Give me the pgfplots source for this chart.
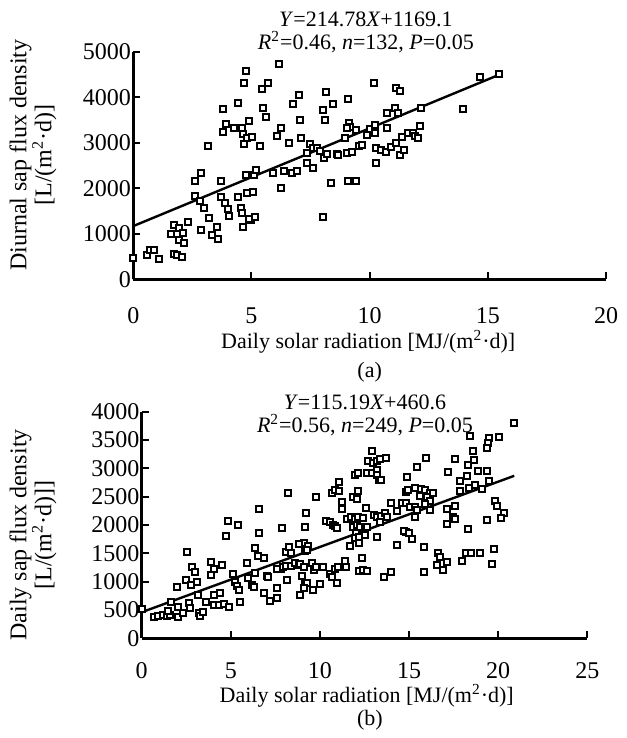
\documentclass[border=0pt]{standalone}
\usepackage{fontspec}
\setmainfont{Liberation Serif}
\usepackage{pgfplots}
\usepackage{pgfplotstable}
\pgfplotsset{compat=1.18}

\pgfplotstableread{
x y
0 468
0.56 534
0.7 644
0.87 644
1.1 440
1.58 996
1.72 1193
1.94 1120
2.1 1025
1.92 864
2.14 805
1.72 556
1.86 534
2.04 483
2.32 1259
2.6 2167
2.85 2328
2.6 1837
2.82 1720
3.01 1574
3.18 2928
2.85 1083
3.2 1340
3.35 974
3.55 1157
3.59 878
3.69 2160
3.8 3748
3.8 3243
3.94 3411
3.72 1815
3.86 1684
3.99 1552
4.06 1391
4.28 3331
4.44 3865
4.62 3331
4.65 3185
4.68 2972
4.76 4583
4.69 4305
4.82 3097
4.9 3485
5.01 3133
4.76 2300
5.1 2290
5.18 2400
4.42 1815
4.56 1559
4.62 1464
4.65 1157
4.82 1889
5.07 1925
5.0 1303
4.9 1325
5.13 1376
5.37 2928
5.46 4173
5.72 4305
5.49 3755
5.63 3558
5.92 2328
6.08 3155
6.25 3316
6.17 4722
6.25 2013
6.39 2379
6.59 2987
6.7 2328
6.94 2379
6.76 3851
7.0 4041
7.04 3499
7.1 3097
7.35 2782
7.46 2972
7.37 2548
7.6 2438
7.6 2877
7.77 2877
7.92 2818
8.03 3719
8.17 4122
8.13 3499
8.45 3851
8.07 2657
8.21 2745
8.03 1376
8.38 2108
8.63 2752
8.97 3097
9.08 3960
9.08 2152
9.44 2160
9.13 3441
9.15 3338
9.06 2767
9.27 2789
9.44 3280
9.55 2928
9.04 3318
8.66 2732
9.69 2945
9.89 3171
10.0 3300
10.17 4305
10.24 3387
10.24 3204
10.28 2879
10.28 2549
10.5 2830
10.73 3661
10.73 3332
10.7 2805
10.92 2900
11.06 3758
11.2 3661
11.1 4198
11.3 4145
11.13 2989
11.3 2732
11.38 3134
11.45 2830
11.62 3209
11.83 3222
11.9 3150
12.04 3099
12.11 3369
12.18 3755
13.94 3733
14.68 4436
15.46 4509
}\dataA

\pgfplotstableread{
x y
0 512
0.71 382
0.94 394
1.22 412
1.40 394
1.59 412
1.5 482
1.65 647
2.02 559
2.06 382
1.96 912
2.34 453
2.53 1529
2.47 1029
2.66 629
2.71 529
2.75 941
2.84 1253
2.99 1176
3.12 1000
3.18 765
3.22 453
3.27 394
3.46 471
3.59 647
3.89 1353
4.08 1218
3.89 1118
4.04 588
4.34 588
4.04 765
4.40 794
4.53 1294
4.64 606
4.90 559
4.71 1812
4.83 2071
5.42 2000
5.11 1135
5.24 1000
5.33 924
5.46 853
5.52 641
5.89 1324
5.95 1059
6.17 941
6.28 900
6.36 1147
6.36 1588
6.55 1453
6.58 2282
6.58 1865
6.85 1412
7.01 1106
7.1 1088
6.88 794
7.2 665
7.58 706
7.59 894
7.89 1941
7.8 1224
7.6 1218
7.9 1250
8.1 1280
8.4 1280
8.6 1330
8.8 1290
8.08 1518
8.27 1618
8.14 1029
8.23 2559
8.4 1500
9.1 1676
9.15 1541
8.85 1665
9.35 1629
9.26 1559
9.17 1971
9.22 2218
9.54 1324
9.67 1206
9.78 1265
8.89 1312
9.1 1265
8.98 1100
9.17 982
9.26 971
9.1 882
8.89 765
9.63 853
10.01 959
9.78 2488
10.16 1265
10.54 1135
10.67 1088
10.85 1218
10.98 982
11.03 1265
11.41 1371
11.47 1265
10.35 2076
10.57 2059
10.72 2000
10.85 1982
10.94 1941
10.66 2571
10.85 2618
11.09 2606
11.09 2765
11.22 2412
11.22 2276
11.5 2100
11.73 2135
11.97 2100
12.16 2147
12.40 2118
11.97 2882
12.16 2924
11.84 2500
12.10 2453
12.16 2606
11.88 1971
12.06 2000
12.25 1959
12.53 1959
12.66 1971
12.03 1853
11.97 1765
12.21 1794
12.53 1824
11.69 1629
12.21 1688
12.34 1412
12.21 1194
12.40 1206
12.66 1194
12.91 3312
12.72 3135
12.96 3100
13.19 3135
13.38 3159
13.71 3176
12.66 2924
12.91 2924
13.22 2971
13.19 2882
13.34 2794
13.43 2794
12.59 2294
13.03 2176
13.19 2147
13.43 2159
13.65 2206
13.75 2147
13.38 2059
13.19 1794
14.0 2394
14.3 2253
14.59 2394
14.83 2394
14.87 2841
13.60 1088
13.98 1176
14.33 1647
14.83 2588
14.83 1882
20.86 3794
18.43 3571
19.51 3529
20.05 3547
19.45 3453
19.40 3353
18.58 3312
18.65 3147
18.33 3059
18.27 2865
18.84 2959
19.40 2953
17.86 2776
17.86 2606
18.39 2647
18.71 2706
19.08 2629
19.51 2782
17.58 3159
17.2 2941
15.96 3176
15.47 3018
14.96 2618
15.34 2647
15.66 2629
15.9 2618
16.15 2571
16.37 2559
15.62 2512
16.0 2488
16.18 2429
15.9 2371
16.18 2265
15.06 2324
15.34 2312
15.47 2265
15.34 2147
17.14 2276
17.57 2335
17.45 2135
17.58 2100
17.11 2018
18.33 1924
19.36 2088
19.83 2429
19.92 2335
20.3 2218
20.15 2118
14.72 1900
15.02 1865
15.15 1747
15.81 1618
16.65 1512
16.71 1441
17.11 1353
16.59 1294
16.93 1206
15.81 1176
17.96 1371
18.2 1500
18.46 1512
18.98 1512
19.77 1571
19.64 1312
}\dataB

\pgfplotsset{
  myaxis/.style={
    scale only axis,
    axis lines*=left,
    axis line style={line width=1.25pt,-},
    tick style={line width=1pt,black},
    tick align=inside,
    major tick length=3.5pt,
    clip=false,
    /pgf/number format/assume math mode=true,
    /pgf/number format/set thousands separator={},
    ticklabel style={font=\fontsize{12}{14}\selectfont},
    yticklabel style={inner sep=1pt},
    label style={font=\fontsize{11}{13}\selectfont},
  },
  mymarks/.style={only marks, mark=square*, mark size=1.5pt,
    mark options={fill=white,draw=black,line width=1pt}},
}

\begin{document}
\fontsize{11}{13}\selectfont
\begin{tikzpicture}
\useasboundingbox (0,0) rectangle (313pt,369pt);
\begin{axis}[myaxis,
  at={(66.65pt,229.35pt)}, anchor=south west,
  width=236.35pt, height=113.8pt,
  xmin=0, xmax=20, ymin=0, ymax=5000,
  xtick={0,5,10,15,20}, ytick={0,1000,2000,3000,4000,5000},
  xticklabel style={yshift=-10.5pt},
  xlabel={Daily solar radiation [MJ/(m\textsuperscript{2}·d)]},
  xlabel style={at={(axis description cs:0.497,-0.275)}, anchor=center},
  ylabel={Diurnal sap flux density\\{[}L/(m\textsuperscript{2}·d){]}},
  ylabel style={align=center, font=\fontsize{12}{12.5}\selectfont, at={(axis description cs:-0.212,0.546)}, anchor=center},
]
\addplot[mymarks] table[x=x,y=y] {\dataA};
\addplot[black, line width=1.2pt, mark=none] coordinates {(0,1169.1) (15.5,4498.2)};
\node[align=center, font=\fontsize{11}{11.5}\selectfont] at (rel axis cs:0.492,1.085)
  {\textit{Y}=214.78\textit{X}+1169.1\\\textit{R}\textsuperscript{2}=0.46, \textit{n}=132, \textit{P}=0.05};
\node at (rel axis cs:0.5,-0.407) {(a)};
\end{axis}

\begin{axis}[myaxis,
  at={(70.85pt,49.85pt)}, anchor=south west,
  width=222.8pt, height=113.3pt,
  xmin=0, xmax=25, ymin=0, ymax=4000,
  xtick={0,5,10,15,20,25}, ytick={0,500,...,4000},
  xticklabel style={yshift=-8.5pt},
  xlabel={Daily solar radiation [MJ/(m\textsuperscript{2}·d)]},
  xlabel style={at={(axis description cs:0.505,-0.255)}, anchor=center},
  ylabel={Daily sap flux density\\{[}L/(m\textsuperscript{2}·d){]]}},
  ylabel style={align=center, font=\fontsize{12}{12.5}\selectfont, at={(axis description cs:-0.244,0.456)}, anchor=center},
]
\addplot[mymarks] table[x=x,y=y] {\dataB};
\addplot[black, line width=1.2pt, mark=none] coordinates {(0,460.6) (20.9,2868.1)};
\node[align=center, font=\fontsize{11}{11.5}\selectfont] at (rel axis cs:0.501,0.985)
  {\textit{Y}=115.19\textit{X}+460.6\\\textit{R}\textsuperscript{2}=0.56, \textit{n}=249, \textit{P}=0.05};
\node at (rel axis cs:0.512,-0.36) {(b)};
\end{axis}
\end{tikzpicture}
\end{document}
